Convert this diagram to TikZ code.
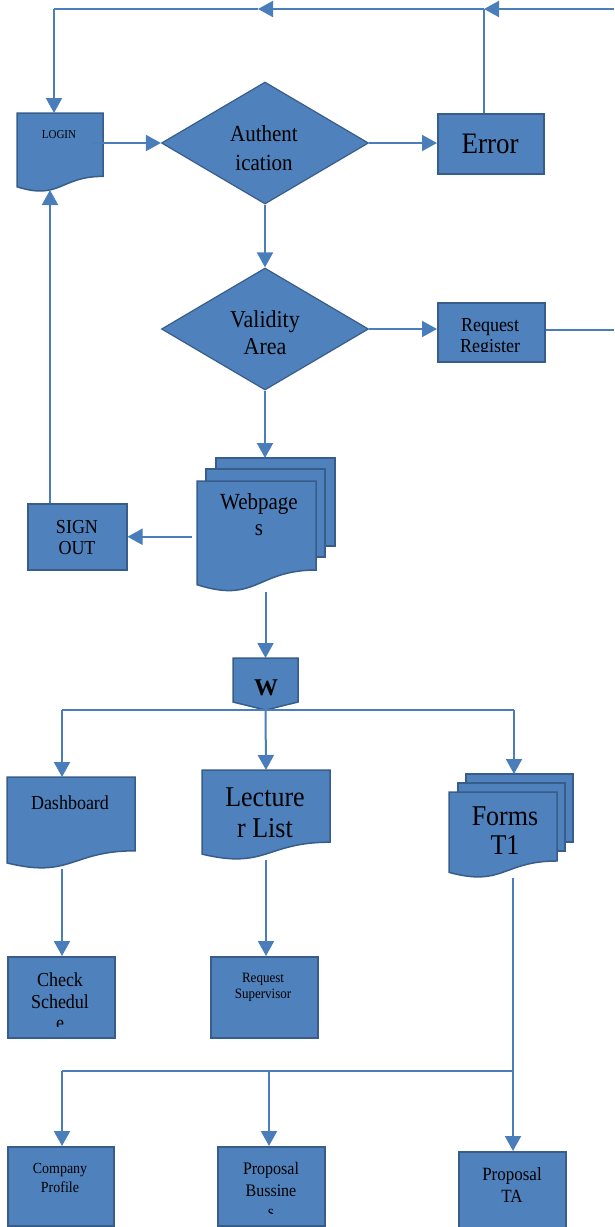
\documentclass[tikz,border=0pt]{standalone}
\usepackage{graphicx}
\usepackage{fontspec}
\setmainfont{Liberation Serif}
\usetikzlibrary{shapes.geometric,arrows.meta}
\definecolor{bfill}{HTML}{4F81BD}
\definecolor{bline}{HTML}{385D8A}
\definecolor{cline}{HTML}{4A7EBB}
\tikzset{
 box/.style={draw=bline, fill=bfill, line width=1.5pt, inner sep=0pt, anchor=north west},
 dia/.style={diamond, draw=bline, fill=bfill, line width=1.2pt, inner sep=0pt, minimum width=207pt, minimum height=122pt},
 conn/.style={draw=cline, line width=2pt},
 arr/.style={conn, -{Triangle[length=15pt,width=16pt]}},
 lbl/.style={align=center, inner sep=0pt, text=black, yshift=-3pt},
 frame/.style={inner sep=0pt, outer sep=0pt, anchor=north west},
 shp/.style={draw=bline, fill=bfill, line width=1.5pt},
}
\newcommand\fs[2]{\fontsize{#1}{#2}\selectfont}
\newcommand\vs[1]{\scalebox{1}[1.1]{\begin{tabular}{@{}c@{}}#1\end{tabular}}}
% document shape: x1 y1 x2 y2
\newcommand\docshape[4]{\path[shp] (#1,#2) -- (#3,#2) -- (#3,{#2+0.802*(#4-#2)}) .. controls ({(#1+#3)/2},{#2+0.802*(#4-#2)}) and ({(#1+#3)/2},{#2+1.107*(#4-#2)}) .. (#1,{#2+0.934*(#4-#2)}) -- cycle;}
\begin{document}
\begin{tikzpicture}[x=1pt,y=-1pt]
\useasboundingbox (0,0) rectangle (614,1227);

% ---- shapes ----
\docshape{17}{113}{103}{192}
\node[frame, minimum width=86pt, minimum height=79pt] (login) at (17,113) {};
\node[lbl, font=\fs{11}{13}] (logint) at (59,133) {\vs{LOGIN}};

\node[dia] (auth) at (265,143) {};
\node[lbl, font=\fs{21}{26}] (autht) at (264,147) {\vs{Authent\\ication}};

\node[box, minimum width=106pt, minimum height=60pt] (error) at (437,113) {};
\node[lbl, font=\fs{27}{32}] (errort) at (490,143) {\vs{Error}};

\node[dia] (valid) at (265,329) {};
\node[lbl, font=\fs{22}{25}] (validt) at (265,332.5) {\vs{Validity\\Area}};

\node[box, minimum width=107pt, minimum height=59pt] (req) at (437,302) {};
\begin{scope}
\clip (437,302) rectangle (544,351);
\node[lbl, font=\fs{18}{19}] (reqt) at (490,335) {\vs{Request\\Register}};
\end{scope}

% Webpages multidocument
\path[shp] (216,458) rectangle (335,546);
\node[frame, minimum width=119pt, minimum height=88pt] (webb) at (216,458) {};
\path[shp] (206,469) rectangle (325,557);
\docshape{197}{481}{316}{592}
\node[frame, minimum width=119pt, minimum height=111pt] (webf) at (197,481) {};
\node[lbl, font=\fs{21}{24}] (webt) at (259,514) {\vs{Webpage\\s}};

\node[box, minimum width=99pt, minimum height=66pt] (signout) at (27,503) {};
\node[lbl, font=\fs{18}{19.5}] (signoutt) at (77,536.5) {\vs{SIGN\\OUT}};

% W off-page connector
\path[shp] (233,658) -- (298,658) -- (298,702) -- (265.5,710) -- (233,702) -- cycle;
\node[frame, minimum width=65pt, minimum height=52pt] (wnode) at (233,658) {};
\node[lbl, font=\fs{24}{28}\bfseries] (wt) at (266,684.5) {W};

% Dashboard
\docshape{7}{777}{135}{869}
\node[frame, minimum width=128pt, minimum height=92pt] (dash) at (7,777) {};
\node[lbl, font=\fs{18}{21}] (dasht) at (70,802) {\vs{Dashboard}};

% Lecturer list
\docshape{202}{770}{330}{860}
\node[frame, minimum width=128pt, minimum height=90pt] (lect) at (202,770) {};
\node[lbl, font=\fs{26}{28}] (lectt) at (265,812.5) {\vs{Lecture\\r List}};

% Forms T1
\path[shp] (466,774) rectangle (573,842);
\node[frame, minimum width=107pt, minimum height=68pt] (formsb) at (466,774) {};
\path[shp] (458,783) rectangle (565,851);
\docshape{449}{792}{557}{878}
\node[frame, minimum width=108pt, minimum height=86pt] (formsf) at (449,792) {};
\node[lbl, font=\fs{26}{26}] (formst) at (505,831.5) {\vs{Forms\\T1}};

% second row boxes
\node[box, minimum width=107pt, minimum height=81pt] (check) at (7,956) {};
\begin{scope}
\clip (7,956) rectangle (114,1026.5);
\node[lbl, font=\fs{18}{19.5}] (checkt) at (60,1001) {\vs{Check\\Schedul\\e}};
\end{scope}

\node[box, minimum width=107pt, minimum height=81pt] (reqsup) at (210,956) {};
\node[lbl, font=\fs{13}{14.5}] (reqsupt) at (263,984) {\vs{Request\\Supervisor}};

% bottom row
\node[box, minimum width=106pt, minimum height=79pt] (comp) at (7,1146) {};
\node[lbl, font=\fs{14}{18}] (compt) at (60,1176) {\vs{Company\\Profile}};

\node[box, minimum width=107pt, minimum height=79pt] (propb) at (217,1146) {};
\begin{scope}
\clip (217,1146) rectangle (324,1213.5);
\node[lbl, font=\fs{16}{19.5}] (propbt) at (271,1189) {\vs{Proposal\\Bussine\\s}};
\end{scope}

\node[box, minimum width=107pt, minimum height=76pt] (propta) at (458,1151) {};
\node[lbl, font=\fs{17}{20}] (proptat) at (512,1184) {\vs{Proposal\\TA}};

% ---- connectors ----
\coordinate (tr) at (614,9);
\coordinate (ej) at (484,9);
\coordinate (tm) at (258,9);
\coordinate (tl) at (54,9);
\draw[conn] (error.north -| ej) -- (ej);
\draw[arr] (tr) -- (ej);
\draw[arr] (ej) -- (tm);
\draw[conn] (tm) -- (tl);
\draw[arr] (tl) -- (tl |- login.north);

\draw[arr] ([xshift=-10pt]login.east |- auth.west) -- (auth.west);
\draw[arr] (auth.east) -- (auth.east -| error.west);
\draw[arr] (auth.south) -- (valid.north);
\draw[arr] (valid.east) -- (valid.east -| req.west);
\coordinate (rr) at (614,330);
\draw[conn] (req.east |- rr) -- (rr);
\draw[arr] (valid.south) -- (valid.south |- webb.north);

\draw[arr] ([xshift=-5pt]webf.west |- signout.east) -- (signout.east);
\coordinate (lb) at (50,190);
\draw[arr] (signout.north -| lb) -- (lb);

\draw[arr] (wnode.north |- webf.south) -- (wnode.north);

\coordinate (bl) at (62,710);
\coordinate (br) at (514,710);
\draw[conn] (bl) -- (br);
\draw[arr] (bl) -- (bl |- dash.north);
\draw[arr] (wnode.south) -- (lect.north);
\draw[arr] (br) -- (br |- formsb.north);

\draw[arr] (dash.south -| bl) -- (check.north -| bl);
\draw[arr] (lect.south) -- (lect.south |- reqsup.north);

\coordinate (fj) at (513,1071);
\coordinate (fl) at (62,1071);
\coordinate (fm) at (269,1071);
\draw[conn] (formsf.south -| fj) -- (fj);
\draw[conn] (fj) -- (fl);
\draw[arr] (fj) -- (fj |- propta.north);
\draw[arr] (fl) -- (fl |- comp.north);
\draw[arr] (fm) -- (fm |- propb.north);
\end{tikzpicture}
\end{document}
